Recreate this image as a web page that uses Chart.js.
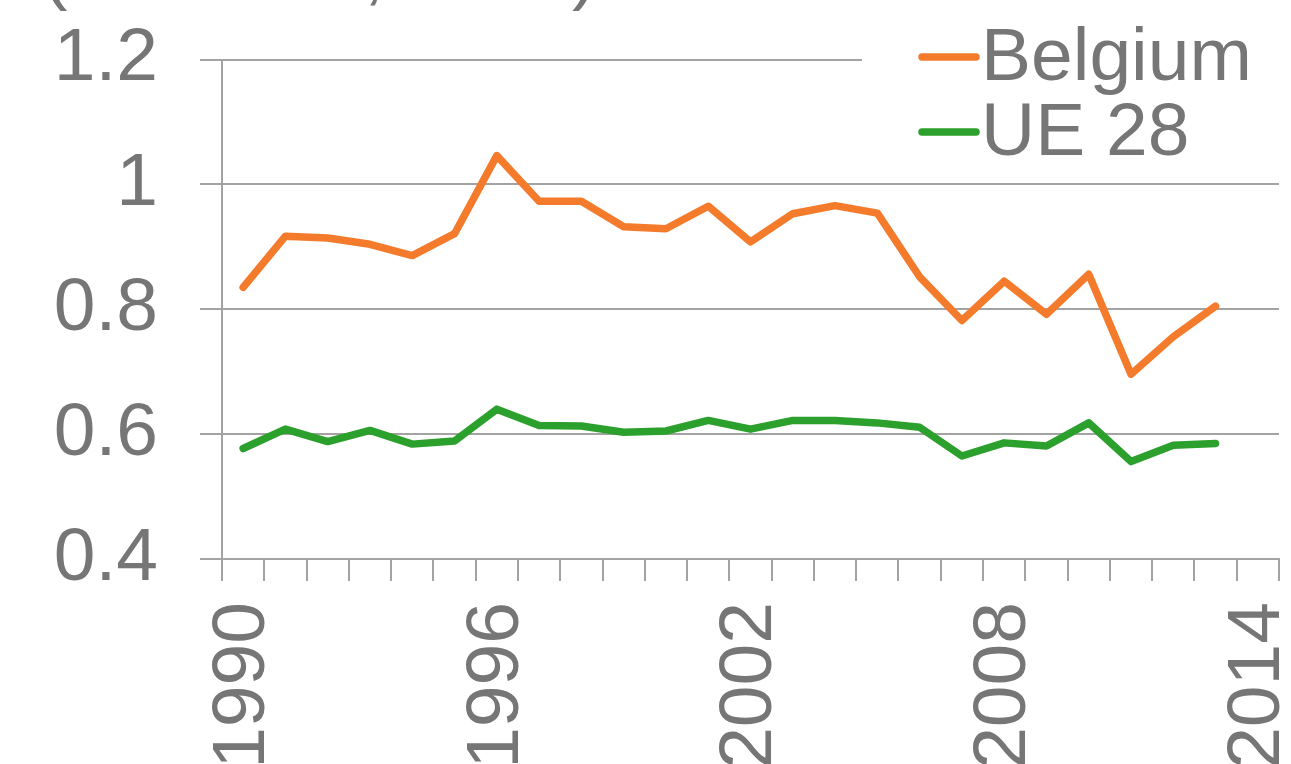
<!DOCTYPE html>
<html>
<head>
<meta charset="utf-8">
<script src="https://cdn.jsdelivr.net/npm/chart.js@4/dist/chart.umd.min.js"></script>
<style>
html,body{margin:0;padding:0;background:#fff;overflow:hidden;}
#wrap{width:1291px;height:764px;position:relative;}
</style>
</head>
<body>
<div id="wrap"><canvas id="c" width="1291" height="764"></canvas></div>
<script>
const years = ['1990','1991','1992','1993','1994','1995','1996','1997','1998','1999','2000','2001','2002','2003','2004','2005','2006','2007','2008','2009','2010','2011','2012','2013','2014'];
const shownYears = ['1990','1996','2002','2008','2014'];
const belgium = [0.835,0.917,0.914,0.904,0.886,0.921,1.046,0.973,0.973,0.932,0.929,0.965,0.908,0.953,0.966,0.954,0.852,0.782,0.845,0.792,0.856,0.696,0.756,0.805,null];
const ue28 = [0.577,0.608,0.588,0.606,0.584,0.589,0.640,0.614,0.613,0.603,0.605,0.622,0.608,0.622,0.622,0.618,0.611,0.565,0.586,0.581,0.618,0.556,0.582,0.585,null];
const yTickLabels = ['0.4','0.6','0.8','1','1.2'];
const titleText = '(t CO2/k€, 2005)';

const FONT = "'Liberation Sans', Arial, Helvetica, sans-serif";
const FS = 75;
const GRAY = '#767676';
const GRID = '#a3a3a3';
const ORANGE = '#f47b2b';
const GREEN = '#2ca02c';

const overlay = {
  id: 'overlay',
  afterDraw(chart) {
    const ctx = chart.ctx;
    ctx.save();
    // title (cropped at top of picture)
    ctx.font = FS + 'px ' + FONT;
    ctx.fillStyle = GRAY;
    ctx.textAlign = 'right';
    ctx.textBaseline = 'alphabetic';
    ctx.fillText(titleText, 597, -4);
    // legend background covering the top grid line
    ctx.fillStyle = '#ffffff';
    ctx.fillRect(862, 40, 429, 40);
    // legend
    const items = chart.data.datasets;
    ctx.textAlign = 'left';
    items.forEach((ds, i) => {
      const y = 57 + i * 75;
      ctx.strokeStyle = ds.borderColor;
      ctx.lineWidth = 7.5;
      ctx.lineCap = 'round';
      ctx.beginPath();
      ctx.moveTo(922, y);
      ctx.lineTo(976, y);
      ctx.stroke();
      ctx.fillStyle = GRAY;
      ctx.font = FS + 'px ' + FONT;
      ctx.fillText(ds.label, 981, 80 + i * 75);
    });
    ctx.restore();
  }
};

new Chart(document.getElementById('c'), {
  type: 'line',
  data: {
    labels: years,
    datasets: [
      {label: 'Belgium', data: belgium, borderColor: ORANGE, backgroundColor: ORANGE, borderWidth: 7.5, pointRadius: 0, tension: 0, borderCapStyle: 'round', borderJoinStyle: 'round', fill: false},
      {label: 'UE 28', data: ue28, borderColor: GREEN, backgroundColor: GREEN, borderWidth: 7.5, pointRadius: 0, tension: 0, borderCapStyle: 'round', borderJoinStyle: 'round', fill: false}
    ]
  },
  options: {
    responsive: false,
    animation: false,
    devicePixelRatio: 1,
    layout: {padding: {top: 59.5, right: 12, left: 0, bottom: 0}},
    plugins: {legend: {display: false}, title: {display: false}, tooltip: {enabled: false}},
    scales: {
      x: {
        type: 'category',
        offset: true,
        grid: {display: true, offset: true, drawOnChartArea: false, drawTicks: true, tickLength: 22, color: GRID, lineWidth: 2},
        border: {display: true, color: GRID, width: 2},
        ticks: {
          autoSkip: false, minRotation: 90, maxRotation: 90, padding: 21,
          color: GRAY, font: {family: FONT, size: FS},
          callback: function(v, i) { const l = this.getLabelForValue(v); return shownYears.includes(l) ? l : ''; }
        },
        afterFit(scale) { scale.height = 205; scale.paddingLeft = 0; scale.paddingRight = 0; }
      },
      y: {
        min: 0.4, max: 1.2,
        grid: {display: true, drawOnChartArea: true, drawTicks: true, tickLength: 22, color: GRID, lineWidth: 2},
        border: {display: true, color: GRID, width: 2},
        ticks: {
          stepSize: 0.2, padding: 42, color: GRAY, font: {family: FONT, size: FS},
          callback: function(v, i) { return yTickLabels[i]; }
        },
        afterFit(scale) { scale.width = 222; scale.paddingTop = 0; scale.paddingBottom = 0; }
      }
    }
  },
  plugins: [overlay]
});
</script>
</body>
</html>
